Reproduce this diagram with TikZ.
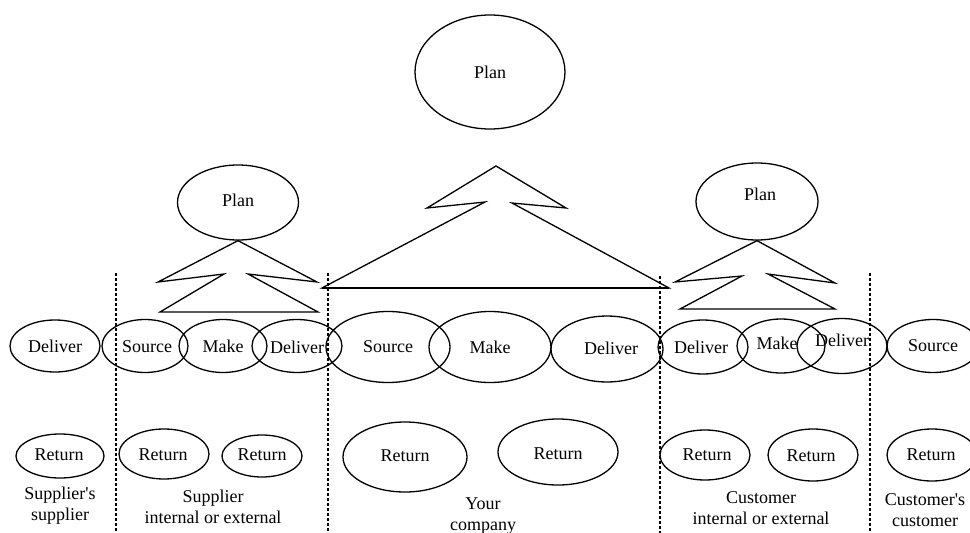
\documentclass[tikz,border=0pt]{standalone}
\usepackage{fontspec}
\setmainfont{Liberation Serif}
\usetikzlibrary{shapes.geometric}
\begin{document}
\begin{tikzpicture}[x=1pt,y=-1pt,
  line width=1.3pt,
  every node/.style={font=\fontsize{18}{21}\selectfont},
  oval/.style={draw,ellipse,inner sep=0pt},
  tree/.style={draw,line join=miter},
  divider/.style={draw,line width=1.7pt,dash pattern=on 3pt off 2pt},
  caption/.style={align=center,inner sep=0pt}]
\useasboundingbox (0,0) rectangle (970,533);
\clip (0,0) rectangle (970,533);
% plans
\node[oval,minimum width=150,minimum height=114] (bigplan) at (490,72) {Plan};
\node[oval,minimum width=121,minimum height=75] (lplan) at (238,202.5) {};
\node (lplant) at (238,200) {Plan};
\node[oval,minimum width=122,minimum height=77] (rplan) at (757,201.5) {};
\node (rplant) at (760,194) {Plan};
% trees
\coordinate (lapex) at (lplan.south);
\draw[tree] (lapex) -- (158,282) -- (224,274) -- (160,312) -- (318,312) -- (248,274) -- (317,282) -- cycle;
\coordinate (rapex) at (rplan.south);
\draw[tree] (rapex) -- (675,282) -- (742,276) -- (680,309) -- (835,309) -- (768,274) -- (835,283) -- cycle;
\coordinate (bapex) at (496,166);
\draw[tree] (bapex) -- (427,208) -- (485,202) -- (322,288) -- (669,288) -- (512,203) -- (566,208) -- cycle;
\draw[line width=1.9pt] (322,288) -- (669,288);
% dividers
\coordinate (d1t) at (116,273); \coordinate (d1b) at (116,533);
\coordinate (d2t) at (328,273); \coordinate (d2b) at (328,533);
\coordinate (d3t) at (660,276); \coordinate (d3b) at (660,533);
\coordinate (d4t) at (870,273); \coordinate (d4b) at (870,533);
\draw[divider] (d1t) -- (d1b);
\draw[divider] (d2t) -- (d2b);
\draw[divider] (d3t) -- (d3b);
\draw[divider] (d4t) -- (d4b);
% middle row
\node[oval,minimum width=90,minimum height=52] (d0) at (55,346) {Deliver};
\node[oval,minimum width=86,minimum height=53] (s1) at (145,346) {};
\node (s1t) at (147,347) {Source};
\node[oval,minimum width=88,minimum height=53] (m1) at (223,346) {Make};
\node[oval,minimum width=90,minimum height=53] (dl1) at (297,346) {};
\node (dl1t) at (297,347) {Deliver};
\node[oval,minimum width=124,minimum height=71] (s2) at (388,347) {Source};
\node[oval,minimum width=122,minimum height=71] (m2) at (490,347) {Make};
\node[oval,minimum width=112,minimum height=66] (dl2) at (607,349) {};
\node (dl2t) at (611,348) {Deliver};
\node[oval,minimum width=90,minimum height=54] (d3) at (703,347) {};
\node (d3t) at (701,347) {Deliver};
\node[oval,minimum width=88,minimum height=54] (m3) at (781,346) {};
\node (m3t) at (777,343) {Make};
\node[oval,minimum width=90,minimum height=55] (dl3) at (842,346) {};
\node (dl3t) at (842,340) {Deliver};
\node[oval,minimum width=92,minimum height=53] (s4) at (933,346) {Source};
% returns
\node[oval,minimum width=88,minimum height=44] (r1) at (60,456) {};
\node (r1t) at (59,455) {Return};
\node[oval,minimum width=90,minimum height=50] (r2) at (164,454) {};
\node (r2t) at (163,455) {Return};
\node[oval,minimum width=80,minimum height=42] (r3) at (262,456) {};
\node (r3t) at (262,455) {Return};
\node[oval,minimum width=124,minimum height=70] (r4) at (405,457) {};
\node (r4t) at (405,456) {Return};
\node[oval,minimum width=120,minimum height=66] (r5) at (558,452) {};
\node (r5t) at (558,454) {Return};
\node[oval,minimum width=90,minimum height=50] (r6) at (705,455) {};
\node (r6t) at (707,455) {Return};
\node[oval,minimum width=90,minimum height=52] (r7) at (813,455) {};
\node (r7t) at (811,456) {Return};
\node[oval,minimum width=90,minimum height=52] (r8) at (932,455) {};
\node (r8t) at (931,455) {Return};
% captions
\node[caption] (c1) at (60,506) {Supplier\textquotesingle s\\supplier};
\node[caption] (c2) at (213,507) {Supplier\\internal or external};
\node[caption] (c3) at (483,516) {Your\\company};
\node[caption] (c4) at (761,508) {Customer\\internal or external};
\node[caption] (c5) at (925,510) {Customer\textquotesingle s\\customer};
\end{tikzpicture}
\end{document}
